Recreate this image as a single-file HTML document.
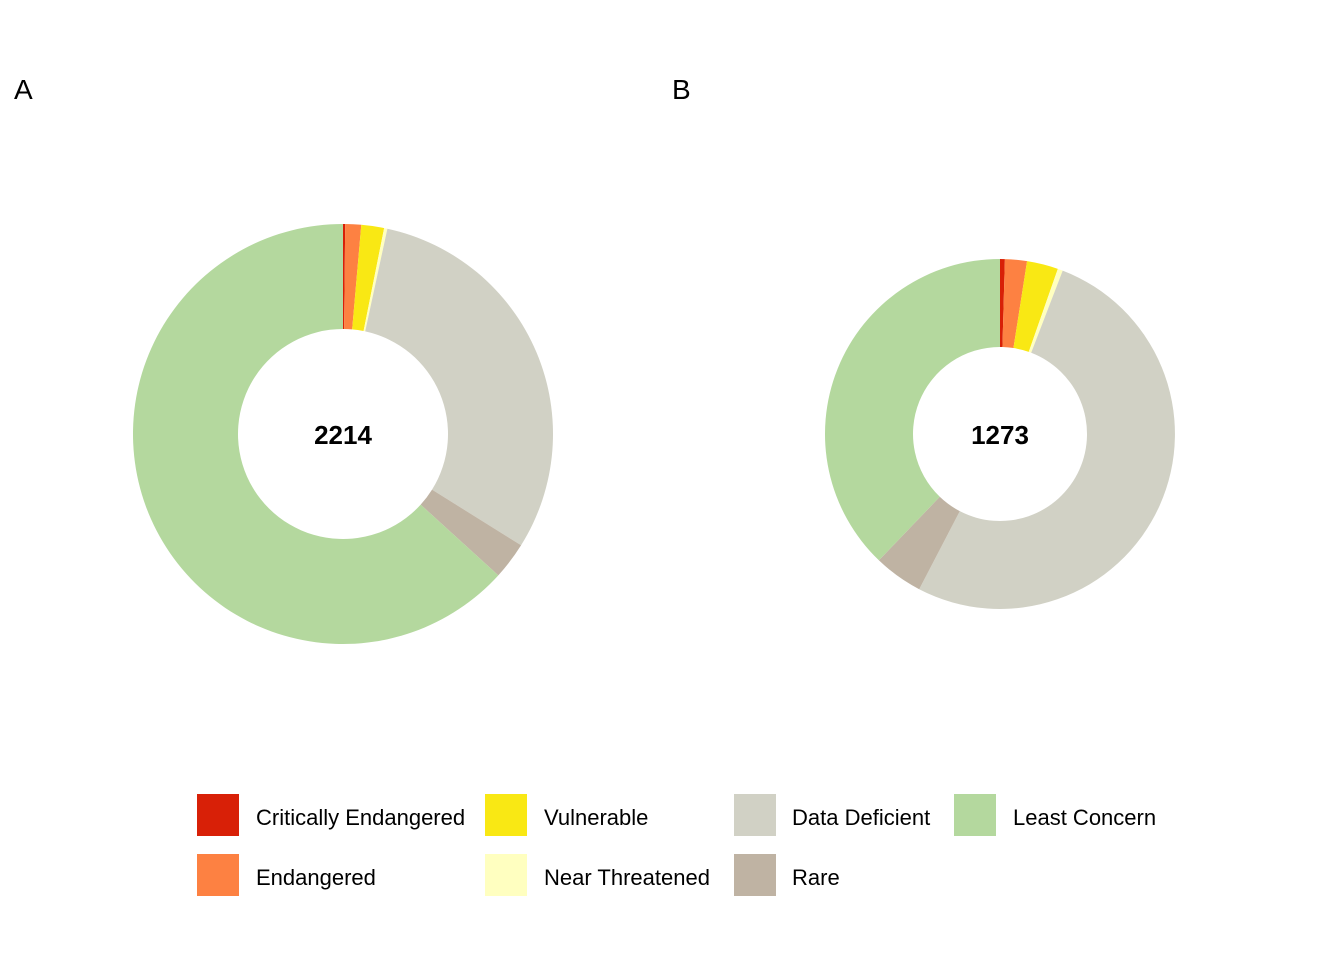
<!DOCTYPE html>
<html><head><meta charset="utf-8"><style>
body{margin:0;background:#fff;font-family:"Liberation Sans",sans-serif}
svg{display:block}
</style></head><body>
<svg id="s" width="1344" height="960" xmlns="http://www.w3.org/2000/svg" font-family="Liberation Sans, sans-serif">
<rect width="1344" height="960" fill="#fff"/>
<text x="14" y="99" font-size="28">A</text>
<text x="672" y="99" font-size="28">B</text>
<g id="g"></g>
<text x="343" y="444" font-size="26" font-weight="bold" text-anchor="middle">2214</text>
<text x="1000" y="444" font-size="26" font-weight="bold" text-anchor="middle">1273</text>
<g font-size="22">
<rect x="197" y="794" width="42" height="42" fill="#d82007"/><text x="256" y="825">Critically Endangered</text>
<rect x="197" y="854" width="42" height="42" fill="#fd8142"/><text x="256" y="885">Endangered</text>
<rect x="485" y="794" width="42" height="42" fill="#f9e814"/><text x="544" y="825">Vulnerable</text>
<rect x="485" y="854" width="42" height="42" fill="#ffffc0"/><text x="544" y="885">Near Threatened</text>
<rect x="734" y="794" width="42" height="42" fill="#d1d1c5"/><text x="792" y="825">Data Deficient</text>
<rect x="734" y="854" width="42" height="42" fill="#bfb3a3"/><text x="792" y="885">Rare</text>
<rect x="954" y="794" width="42" height="42" fill="#b4d89e"/><text x="1013" y="825">Least Concern</text>
</g>
</svg>
<script>
var cols=["#d82007","#fd8142","#f9e814","#ffffc0","#d1d1c5","#bfb3a3","#b4d89e"];
function donut(cx,cy,R,r,b){var g=document.getElementById("g"),h="";
for(var i=0;i<7;i++){var a0=b[i]*Math.PI/180,a1=b[i+1]*Math.PI/180,l=(b[i+1]-b[i])>180?1:0;
function p(rr,a){return (cx+rr*Math.sin(a)).toFixed(2)+","+(cy-rr*Math.cos(a)).toFixed(2)}
h+='<path fill="'+cols[i]+'" d="M'+p(R,a0)+"A"+R+","+R+" 0 "+l+" 1 "+p(R,a1)+"L"+p(r,a1)+"A"+r+","+r+" 0 "+l+" 0 "+p(r,a0)+'Z"/>';}
g.innerHTML+=h;}
donut(343,434,210,105,[0,0.6,5,11.3,12.2,122,132.3,360]);
donut(1000,434,175,87,[0,1.6,8.9,19.3,21,207.5,223.8,360]);
</script>
</body></html>
